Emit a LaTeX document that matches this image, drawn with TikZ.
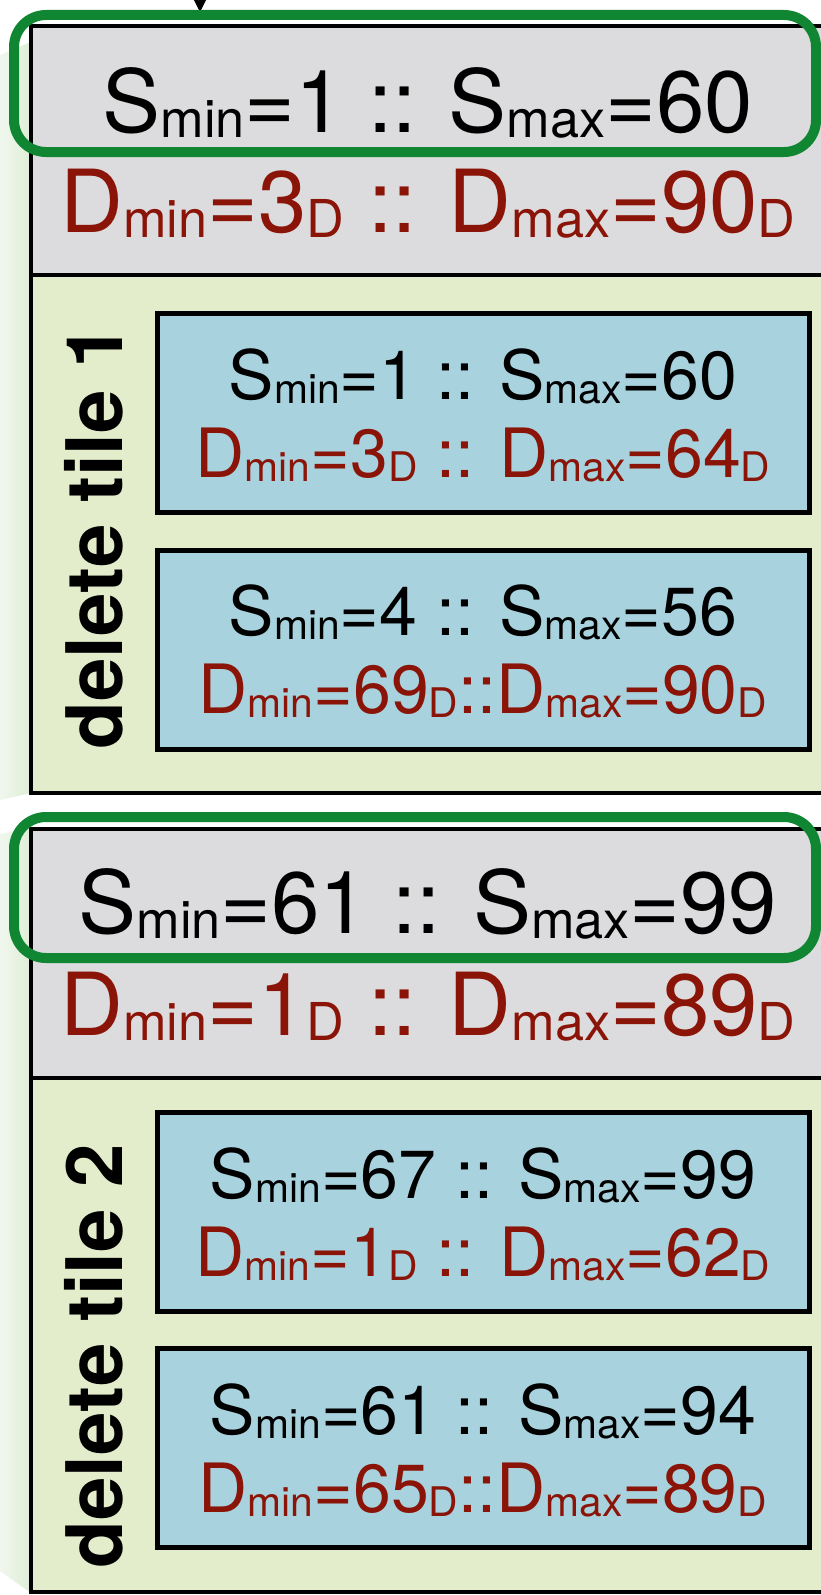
\documentclass[tikz,border=0pt]{standalone}
\usepackage{fontspec}
\setmainfont{TeX Gyre Heros}
\usepackage{graphicx}
\usetikzlibrary{arrows.meta}
\definecolor{headergray}{RGB}{220,220,222}
\definecolor{panelgreen}{RGB}{227,237,203}
\definecolor{tileblue}{RGB}{168,211,222}
\definecolor{dred}{RGB}{139,20,8}
\definecolor{scribgreen}{RGB}{16,134,50}
\definecolor{bandL}{RGB}{240,247,238}
\definecolor{bandR}{RGB}{222,238,214}
\newcommand\lo[1]{\raisebox{-0.06em}{\scalebox{0.6}{#1}}}
\begin{document}
\begin{tikzpicture}[x=1pt,y=-1pt,
  boxbase/.style={rectangle, draw=black, line width=4, anchor=north west, inner sep=0, outer sep=0},
  headerbox/.style={boxbase, fill=headergray},
  panelbox/.style={boxbase, fill=panelgreen},
  tilebox/.style={boxbase, fill=tileblue, line width=5, minimum width=652, minimum height=199},
  bigS/.style={anchor=base, inner sep=0, text=black, font=\fontsize{87}{87}\selectfont},
  bigD/.style={anchor=base, inner sep=0, text=dred, font=\fontsize{87}{87}\selectfont},
  smS/.style={anchor=base, inner sep=0, text=black, font=\fontsize{68}{68}\selectfont},
  smD/.style={anchor=base, inner sep=0, text=dred, font=\fontsize{68}{68}\selectfont},
  tilelabel/.style={anchor=base, inner sep=0, rotate=90, font=\fontsize{78}{78}\selectfont\bfseries},
  scribble/.style={draw=scribgreen, line width=10, rounded corners=32},
  band/.style={left color=bandL, right color=bandR, draw=none}
]
\useasboundingbox (0,0) rectangle (821,1595);
\clip (0,0) rectangle (821,1595);

% background bands
\shade[band] (0,55) -- (31,42) -- (31,793) -- (0,800) -- cycle;
\shade[band] (0,834) -- (31,828) -- (31,1593) -- (0,1571) -- cycle;

% arrow from above
\coordinate (arrfrom) at (200,-40);
\coordinate (arrto) at (200,12);
\draw[line width=3, -{Stealth[length=16,width=16]}] (arrfrom) -- (arrto);

% block 1
\node[headerbox, minimum width=800, minimum height=249] (h1) at (31,26) {};
\node[panelbox, minimum width=800, minimum height=518] (p1) at (31,275) {};
\node[bigS] (h1s) at (428,132) {S\lo{min}=1 :: S\lo{max}=60};
\node[bigD] (h1d) at (428,232) {D\lo{min}=3\lo{D} :: D\lo{max}=90\lo{D}};
\node[tilelabel] (l1) at (122,537) {delete tile 1};
\node[tilebox] (t1) at (157,313) {};
\node[smS] (t1s) at (483,399) {S\lo{min}=1 :: S\lo{max}=60};
\node[smD] (t1d) at (483,477) {D\lo{min}=3\lo{D} :: D\lo{max}=64\lo{D}};
\node[tilebox] (t2) at (157,550) {};
\node[smS] (t2s) at (483,635) {S\lo{min}=4 :: S\lo{max}=56};
\node[smD] (t2d) at (483,713) {D\lo{min}=69\lo{D}::D\lo{max}=90\lo{D}};

% block 2
\node[headerbox, minimum width=800, minimum height=249] (h2) at (31,829) {};
\node[panelbox, minimum width=800, minimum height=514] (p2) at (31,1078) {};
\node[bigS] (h2s) at (428,933) {S\lo{min}=61 :: S\lo{max}=99};
\node[bigD] (h2d) at (428,1035) {D\lo{min}=1\lo{D} :: D\lo{max}=89\lo{D}};
\node[tilelabel] (l2) at (122,1356) {delete tile 2};
\node[tilebox] (t3) at (157,1112) {};
\node[smS] (t3s) at (483,1198) {S\lo{min}=67 :: S\lo{max}=99};
\node[smD] (t3d) at (483,1276) {D\lo{min}=1\lo{D} :: D\lo{max}=62\lo{D}};
\node[tilebox] (t4) at (157,1348) {};
\node[smS] (t4s) at (483,1434) {S\lo{min}=61 :: S\lo{max}=94};
\node[smD] (t4d) at (483,1512) {D\lo{min}=65\lo{D}::D\lo{max}=89\lo{D}};

% green scribbles
\draw[scribble] (14,15) rectangle (816,152);
\draw[scribble] (14,817) rectangle (816,958);
\end{tikzpicture}
\end{document}
